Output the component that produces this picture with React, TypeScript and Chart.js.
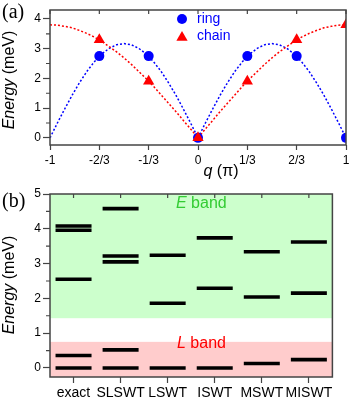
import React, { useEffect, useRef } from "react";
import { Chart, registerables } from "chart.js";
Chart.register(...registerables);

// ---------- panel (a) data ----------
const qGrid = [
  -1, -0.95, -0.9, -0.85, -0.8, -0.75, -0.7, -0.65, -0.6, -0.55, -0.5,
  -0.45, -0.4, -0.35, -0.3, -0.25, -0.2, -0.15, -0.1, -0.05, 0,
  0.05, 0.1, 0.15, 0.2, 0.25, 0.3, 0.35, 0.4, 0.45, 0.5,
  0.55, 0.6, 0.65, 0.7, 0.75, 0.8, 0.85, 0.9, 0.95, 1,
];
const ringCurve = [
  0, 0.5, 0.98, 1.44, 1.86, 2.24, 2.56, 2.82, 3.01, 3.13, 3.17,
  3.13, 3.01, 2.82, 2.56, 2.24, 1.86, 1.44, 0.98, 0.5, 0,
  0.5, 0.98, 1.44, 1.86, 2.24, 2.56, 2.82, 3.01, 3.13, 3.17,
  3.13, 3.01, 2.82, 2.56, 2.24, 1.86, 1.44, 0.98, 0.5, 0,
];
const chainCurve = [
  3.8, 3.79, 3.75, 3.7, 3.61, 3.51, 3.39, 3.24, 3.07, 2.89, 2.69,
  2.47, 2.23, 1.99, 1.73, 1.45, 1.17, 0.89, 0.59, 0.3, 0,
  0.3, 0.59, 0.89, 1.17, 1.45, 1.73, 1.99, 2.23, 2.47, 2.69,
  2.89, 3.07, 3.24, 3.39, 3.51, 3.61, 3.7, 3.75, 3.79, 3.8,
];
const markerQ = [-2 / 3, -1 / 3, 0, 1 / 3, 2 / 3, 1];
const ringE = [2.75, 2.75, 0, 2.75, 2.75, 0];
const chainE = [3.3, 1.9, 0, 1.9, 3.3, 3.8];
const qTickValues = [-1, -2 / 3, -1 / 3, 0, 1 / 3, 2 / 3, 1];
const qTickLabels = ["-1", "-2/3", "-1/3", "0", "1/3", "2/3", "1"];
const energyTicksA = [0, 1, 2, 3, 4];
const minorTicksA = [0.5, 1.5, 2.5, 3.5];

// ---------- panel (b) data ----------
const methods = ["exact", "SLSWT", "LSWT", "ISWT", "MSWT", "MISWT"];
const exactE = [0, 0.36, 2.55, 3.96, 4.08];
const slswtE = [0, 0.52, 3.05, 3.22, 4.58];
const lswtE = [0, 1.86, 3.24];
const iswtE = [0, 2.29, 3.74];
const mswtE = [0.13, 2.04, 3.34];
const miswtE = [0.24, 2.15, 3.62];
const levelsB = [exactE, slswtE, lswtE, iswtE, mswtE, miswtE];
const energyTicksB = [0, 1, 2, 3, 4, 5];
const minorTicksB = [0.5, 1.5, 2.5, 3.5, 4.5];
const eBand = [1.43, 5];
const lBand = [-0.26, 0.75];

const W = 354;
const H = 400;
const FONT = "'Liberation Sans', Arial, Helvetica, sans-serif";
const SERIF = "'Liberation Serif', 'Times New Roman', serif";
const FRAME = "#444";
const BLUE = "#0000ff";
const RED = "#ff0000";

type Part = { text: string; italic?: boolean };

function drawMixed(ctx: CanvasRenderingContext2D, parts: Part[], size: number, x: number, y: number, align: "center" | "left", color: string) {
  ctx.save();
  ctx.fillStyle = color;
  ctx.textBaseline = "middle";
  ctx.textAlign = "left";
  const fonts = parts.map((p) => `${p.italic ? "italic " : ""}${size}px ${FONT}`);
  const widths = parts.map((p, i) => {
    ctx.font = fonts[i];
    return ctx.measureText(p.text).width;
  });
  const total = widths.reduce((a, b) => a + b, 0);
  let cx = align === "center" ? x - total / 2 : x;
  parts.forEach((p, i) => {
    ctx.font = fonts[i];
    ctx.fillText(p.text, cx, y);
    cx += widths[i];
  });
  ctx.restore();
}

function drawRotated(ctx: CanvasRenderingContext2D, parts: Part[], size: number, x: number, y: number, color: string) {
  ctx.save();
  ctx.translate(x, y);
  ctx.rotate(-Math.PI / 2);
  drawMixed(ctx, parts, size, 0, 0, "center", color);
  ctx.restore();
}

function drawFrame(chart: any, minorY: number[], topTicks: number[]) {
  const { ctx, chartArea: a, scales } = chart;
  ctx.save();
  ctx.strokeStyle = FRAME;
  ctx.lineWidth = 1.5;
  ctx.strokeRect(a.left, a.top, a.right - a.left, a.bottom - a.top);
  ctx.lineWidth = 1.2;
  ctx.beginPath();
  for (const v of minorY) {
    const y = scales.y.getPixelForValue(v);
    ctx.moveTo(a.left - 4, y);
    ctx.lineTo(a.left, y);
  }
  for (const px of topTicks) {
    ctx.moveTo(px, a.top);
    ctx.lineTo(px, a.top + 4);
  }
  ctx.stroke();
  ctx.restore();
}

function topConfig(): any {
  const plugin = {
    id: "panelA",
    beforeDatasetsDraw(chart: any) {
      const { ctx, chartArea: a } = chart;
      ctx.save();
      ctx.beginPath();
      ctx.rect(a.left, a.top, a.right - a.left, a.bottom - a.top);
      ctx.clip();
    },
    afterDatasetsDraw(chart: any) {
      chart.ctx.restore();
    },
    afterDraw(chart: any) {
      const { ctx, scales } = chart;
      drawFrame(chart, minorTicksA, qTickValues.map((v) => scales.x.getPixelForValue(v)));
      // panel label
      ctx.save();
      ctx.fillStyle = "#000";
      ctx.font = `20px ${SERIF}`;
      ctx.textBaseline = "middle";
      ctx.textAlign = "left";
      ctx.fillText("(a)", 2, 13);
      ctx.restore();
      // legend
      ctx.save();
      ctx.fillStyle = BLUE;
      ctx.beginPath();
      ctx.arc(182, 19, 5, 0, Math.PI * 2);
      ctx.fill();
      ctx.fillStyle = RED;
      const r = 6.5, cx = 182, cy = 37.5;
      ctx.beginPath();
      for (let k = 0; k < 3; k++) {
        const ang = (k * 2 * Math.PI) / 3;
        const px = cx + Math.sin(ang) * r;
        const py = cy - Math.cos(ang) * r;
        if (k === 0) ctx.moveTo(px, py);
        else ctx.lineTo(px, py);
      }
      ctx.closePath();
      ctx.fill();
      ctx.restore();
      drawMixed(ctx, [{ text: "ring" }], 14, 197, 19, "left", BLUE);
      drawMixed(ctx, [{ text: "chain" }], 14, 197, 36, "left", BLUE);
      // axis titles
      drawRotated(ctx, [{ text: "Energy", italic: true }, { text: " (meV)" }], 16, 10, 80, "#000");
      drawMixed(ctx, [{ text: "q", italic: true }, { text: " (π)" }], 16, 221, 172, "center", "#000");
    },
  };
  return {
    type: "line",
    data: {
      datasets: [
        {
          label: "chain",
          data: markerQ.map((q, i) => ({ x: q, y: chainE[i] })),
          showLine: false,
          pointStyle: "triangle",
          pointRadius: 6.5,
          pointBackgroundColor: RED,
          pointBorderColor: RED,
          pointBorderWidth: 0,
          order: 0,
          clip: 0,
        },
        {
          label: "ring",
          data: markerQ.map((q, i) => ({ x: q, y: ringE[i] })),
          showLine: false,
          pointStyle: "circle",
          pointRadius: 5,
          pointBackgroundColor: BLUE,
          pointBorderColor: BLUE,
          pointBorderWidth: 0,
          order: 1,
          clip: 0,
        },
        {
          label: "chain fit",
          data: qGrid.map((q, i) => ({ x: q, y: chainCurve[i] })),
          borderColor: RED,
          borderWidth: 1.5,
          borderDash: [2, 2],
          pointRadius: 0,
          tension: 0,
          order: 2,
        },
        {
          label: "ring fit",
          data: qGrid.map((q, i) => ({ x: q, y: ringCurve[i] })),
          borderColor: BLUE,
          borderWidth: 1.5,
          borderDash: [2, 2],
          pointRadius: 0,
          tension: 0,
          order: 3,
        },
      ],
    },
    options: {
      responsive: false,
      animation: false,
      devicePixelRatio: 1,
      layout: { padding: { top: 10, right: 8, left: 0, bottom: H - 145 - 45 } },
      plugins: { legend: { display: false }, tooltip: { enabled: false } },
      scales: {
        x: {
          type: "linear",
          min: -1,
          max: 1,
          afterBuildTicks: (s: any) => { s.ticks = qTickValues.map((v) => ({ value: v })); },
          afterFit: (s: any) => { s.height = 45; },
          border: { display: false },
          grid: { drawOnChartArea: false, drawTicks: true, tickLength: 5, color: FRAME, tickWidth: 1.2 },
          ticks: {
            autoSkip: false,
            maxRotation: 0,
            padding: 3,
            color: "#000",
            font: { family: FONT, size: 12 },
            callback: (v: number) => {
              const i = qTickValues.findIndex((t) => Math.abs(t - v) < 1e-6);
              return i >= 0 ? qTickLabels[i] : "";
            },
          },
        },
        y: {
          type: "linear",
          min: -0.24,
          max: 4.3,
          afterBuildTicks: (s: any) => { s.ticks = energyTicksA.map((v) => ({ value: v })); },
          afterFit: (s: any) => { s.width = 50; },
          border: { display: false },
          grid: { drawOnChartArea: false, drawTicks: true, tickLength: 7, color: FRAME, tickWidth: 1.2 },
          ticks: { padding: 2, color: "#000", font: { family: FONT, size: 12 } },
        },
      },
    },
    plugins: [plugin],
  };
}

function bottomConfig(): any {
  const points: { x: string; y: number }[] = [];
  levelsB.forEach((arr, i) => arr.forEach((v) => points.push({ x: methods[i], y: v })));
  const plugin = {
    id: "panelB",
    beforeDatasetsDraw(chart: any) {
      const { ctx, chartArea: a, scales } = chart;
      ctx.save();
      const yE1 = scales.y.getPixelForValue(eBand[1]);
      const yE0 = scales.y.getPixelForValue(eBand[0]);
      ctx.fillStyle = "#ccffcc";
      ctx.fillRect(a.left, yE1, a.right - a.left, yE0 - yE1);
      const yL1 = scales.y.getPixelForValue(lBand[1]);
      const yL0 = scales.y.getPixelForValue(lBand[0]);
      ctx.fillStyle = "#ffcccc";
      ctx.fillRect(a.left, yL1, a.right - a.left, yL0 - yL1);
      ctx.restore();
      drawMixed(ctx, [{ text: "E", italic: true }, { text: " band" }], 16, 176, 204, "left", "#33cc33");
      drawMixed(ctx, [{ text: "L", italic: true }, { text: " band" }], 16, 177, 343.5, "left", RED);
    },
    afterDraw(chart: any) {
      const { ctx, scales } = chart;
      drawFrame(chart, minorTicksB, methods.map((_, i) => scales.x.getPixelForValue(i)));
      ctx.save();
      ctx.fillStyle = "#000";
      ctx.font = `20px ${SERIF}`;
      ctx.textBaseline = "middle";
      ctx.textAlign = "left";
      ctx.fillText("(b)", 2, 202);
      ctx.restore();
      drawRotated(ctx, [{ text: "Energy", italic: true }, { text: " (meV)" }], 16, 10, 285, "#000");
    },
  };
  return {
    type: "line",
    data: {
      labels: methods,
      datasets: [
        {
          label: "levels",
          data: points,
          showLine: false,
          pointStyle: "line",
          pointRadius: 18,
          pointBorderWidth: 3.6,
          pointBorderColor: "#000",
          pointBackgroundColor: "#000",
        },
      ],
    },
    options: {
      responsive: false,
      animation: false,
      devicePixelRatio: 1,
      layout: { padding: { top: 194, right: 8, left: 0, bottom: 0 } },
      plugins: { legend: { display: false }, tooltip: { enabled: false } },
      scales: {
        x: {
          type: "category",
          offset: true,
          afterFit: (s: any) => { s.height = 23; },
          border: { display: false },
          grid: { offset: false, drawOnChartArea: false, drawTicks: true, tickLength: 6, color: FRAME, tickWidth: 1.2 },
          ticks: { autoSkip: false, maxRotation: 0, minRotation: 0, padding: 2, color: "#000", font: { family: FONT, size: 14 } },
        },
        y: {
          type: "linear",
          min: -0.26,
          max: 5,
          afterBuildTicks: (s: any) => { s.ticks = energyTicksB.map((v) => ({ value: v })); },
          afterFit: (s: any) => { s.width = 50; },
          border: { display: false },
          grid: { drawOnChartArea: false, drawTicks: true, tickLength: 7, color: FRAME, tickWidth: 1.2 },
          ticks: { padding: 2, color: "#000", font: { family: FONT, size: 12 } },
        },
      },
    },
    plugins: [plugin],
  };
}

export default function App() {
  const topRef = useRef<HTMLCanvasElement>(null);
  const botRef = useRef<HTMLCanvasElement>(null);
  useEffect(() => {
    const c1 = new Chart(topRef.current as HTMLCanvasElement, topConfig());
    const c2 = new Chart(botRef.current as HTMLCanvasElement, bottomConfig());
    return () => {
      c1.destroy();
      c2.destroy();
    };
  }, []);
  return (
    <div style={{ position: "absolute", left: 0, top: 0, width: W, height: H, background: "#fff" }}>
      <canvas ref={topRef} width={W} height={H} style={{ position: "absolute", left: 0, top: 0 }} />
      <canvas ref={botRef} width={W} height={H} style={{ position: "absolute", left: 0, top: 0 }} />
    </div>
  );
}
